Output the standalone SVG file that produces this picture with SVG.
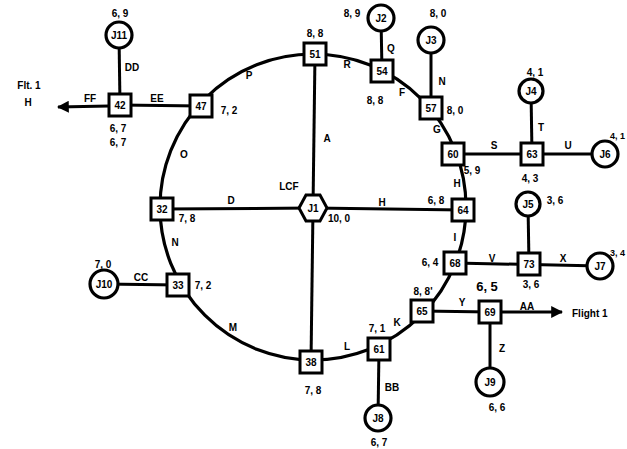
<svg xmlns="http://www.w3.org/2000/svg" width="627" height="449" viewBox="0 0 627 449">
  <defs>
    <marker id="arrow" viewBox="0 0 10 10" refX="9" refY="5" markerWidth="4" markerHeight="4" orient="auto">
      <path d="M0,0 L10,5 L0,10 z" fill="#000"/>
    </marker>
    <style>
      .ring { fill: none; stroke: #000; stroke-width: 3.2; }
      .edge { fill: none; stroke: #000; stroke-width: 3; }
      .box { fill: #fff; stroke: #000; stroke-width: 3; }
      .jn { fill: #fff; stroke: #000; stroke-width: 3.2; }
      .nid { font-family: "Liberation Sans", Arial, sans-serif; font-weight: bold; font-size: 10px; text-anchor: middle; fill: #000; }
      .lbl { font-family: "Liberation Sans", Arial, sans-serif; font-weight: bold; font-size: 10px; text-anchor: middle; fill: #000; }
      .start { text-anchor: start; }
      .edgeval { font-size: 9px; }
      .big { font-size: 13px; }
    </style>
  </defs>
  <rect width="627" height="449" fill="#fff"/>

  <!-- connectors -->
  <g id="connectors">
    <circle class="ring" cx="313" cy="207" r="153"/>
    <line class="edge" x1="313" y1="208" x2="315" y2="54"/>
    <line class="edge" x1="313" y1="208" x2="311" y2="362"/>
    <line class="edge" x1="313" y1="208" x2="162" y2="209"/>
    <line class="edge" x1="313" y1="208" x2="463" y2="210"/>
    <line class="edge" x1="201" y1="106" x2="120" y2="105"/>
    <line class="edge" x1="120" y1="105" x2="119" y2="35"/>
    <line class="edge" x1="109" y1="106" x2="58" y2="107" marker-end="url(#arrow)"/>
    <line class="edge" x1="382" y1="71" x2="381" y2="18"/>
    <line class="edge" x1="431" y1="108" x2="431" y2="40"/>
    <line class="edge" x1="453" y1="154" x2="605" y2="154"/>
    <line class="edge" x1="532" y1="154" x2="531" y2="91"/>
    <line class="edge" x1="455" y1="263" x2="600" y2="266"/>
    <line class="edge" x1="529" y1="264" x2="528" y2="204"/>
    <line class="edge" x1="422" y1="311" x2="490" y2="312"/>
    <line class="edge" x1="501" y1="312" x2="562" y2="312" marker-end="url(#arrow)"/>
    <line class="edge" x1="490" y1="312" x2="490" y2="382"/>
    <line class="edge" x1="379" y1="349" x2="378" y2="418"/>
    <line class="edge" x1="178" y1="285" x2="104" y2="284"/>
  </g>

  <!-- centre node -->
  <g id="J1">
    <polygon class="box" points="299,208 306,195 320,195 327,208 320,221 306,221"/>
    <text class="nid" x="313" y="212">J1</text>
  </g>

  <!-- square nodes -->
  <g id="n42"><rect class="box" x="109" y="94" width="22" height="22"/><text class="nid" x="120" y="109">42</text></g>
  <g id="n47"><rect class="box" x="190" y="95" width="22" height="22"/><text class="nid" x="201" y="110">47</text></g>
  <g id="n51"><rect class="box" x="304" y="43" width="22" height="22"/><text class="nid" x="315" y="58">51</text></g>
  <g id="n54"><rect class="box" x="371" y="60" width="22" height="22"/><text class="nid" x="382" y="75">54</text></g>
  <g id="n57"><rect class="box" x="420" y="97" width="22" height="22"/><text class="nid" x="431" y="112">57</text></g>
  <g id="n60"><rect class="box" x="442" y="143" width="22" height="22"/><text class="nid" x="453" y="158">60</text></g>
  <g id="n63"><rect class="box" x="521" y="143" width="22" height="22"/><text class="nid" x="532" y="158">63</text></g>
  <g id="n64"><rect class="box" x="452" y="199" width="22" height="22"/><text class="nid" x="463" y="214">64</text></g>
  <g id="n68"><rect class="box" x="444" y="252" width="22" height="22"/><text class="nid" x="455" y="267">68</text></g>
  <g id="n73"><rect class="box" x="518" y="253" width="22" height="22"/><text class="nid" x="529" y="268">73</text></g>
  <g id="n65"><rect class="box" x="411" y="300" width="22" height="22"/><text class="nid" x="422" y="315">65</text></g>
  <g id="n69"><rect class="box" x="479" y="301" width="22" height="22"/><text class="nid" x="490" y="316">69</text></g>
  <g id="n61"><rect class="box" x="368" y="338" width="22" height="22"/><text class="nid" x="379" y="353">61</text></g>
  <g id="n38"><rect class="box" x="300" y="351" width="22" height="22"/><text class="nid" x="311" y="366">38</text></g>
  <g id="n33"><rect class="box" x="167" y="274" width="22" height="22"/><text class="nid" x="178" y="289">33</text></g>
  <g id="n32"><rect class="box" x="151" y="198" width="22" height="22"/><text class="nid" x="162" y="213">32</text></g>

  <!-- circular nodes -->
  <g id="J11"><circle class="jn" cx="119" cy="35" r="13"/><text class="nid" x="119" y="39">J11</text></g>
  <g id="J2"><circle class="jn" cx="381" cy="18" r="13"/><text class="nid" x="381" y="22">J2</text></g>
  <g id="J3"><circle class="jn" cx="431" cy="40" r="13"/><text class="nid" x="431" y="44">J3</text></g>
  <g id="J4"><circle class="jn" cx="531" cy="91" r="12"/><text class="nid" x="531" y="95">J4</text></g>
  <g id="J6"><circle class="jn" cx="605" cy="154" r="13"/><text class="nid" x="605" y="158">J6</text></g>
  <g id="J5"><circle class="jn" cx="528" cy="204" r="12"/><text class="nid" x="528" y="208">J5</text></g>
  <g id="J7"><circle class="jn" cx="600" cy="266" r="13"/><text class="nid" x="600" y="270">J7</text></g>
  <g id="J9"><circle class="jn" cx="490" cy="382" r="14"/><text class="nid" x="490" y="386">J9</text></g>
  <g id="J8"><circle class="jn" cx="378" cy="418" r="13"/><text class="nid" x="378" y="422">J8</text></g>
  <g id="J10"><circle class="jn" cx="104" cy="284" r="14"/><text class="nid" x="104" y="288">J10</text></g>

  <!-- connector letters -->
  <g id="edge-labels">
    <text class="lbl" x="327" y="142">A</text>
    <text class="lbl" x="231" y="204">D</text>
    <text class="lbl" x="382" y="206">H</text>
    <text class="lbl" x="249" y="79">P</text>
    <text class="lbl" x="347" y="68">R</text>
    <text class="lbl" x="391" y="52">Q</text>
    <text class="lbl" x="402" y="96">F</text>
    <text class="lbl" x="442" y="85">N</text>
    <text class="lbl" x="437" y="133">G</text>
    <text class="lbl" x="494" y="149">S</text>
    <text class="lbl" x="541" y="131">T</text>
    <text class="lbl" x="568" y="149">U</text>
    <text class="lbl" x="457" y="187">H</text>
    <text class="lbl" x="455" y="241">I</text>
    <text class="lbl" x="492" y="262">V</text>
    <text class="lbl" x="563" y="262">X</text>
    <text class="lbl" x="462" y="306">Y</text>
    <text class="lbl" x="527" y="310">AA</text>
    <text class="lbl" x="502" y="352">Z</text>
    <text class="lbl" x="397" y="326">K</text>
    <text class="lbl" x="347" y="350">L</text>
    <text class="lbl" x="392" y="391">BB</text>
    <text class="lbl" x="233" y="331">M</text>
    <text class="lbl" x="141" y="281">CC</text>
    <text class="lbl" x="175" y="246">N</text>
    <text class="lbl" x="184" y="158">O</text>
    <text class="lbl" x="157" y="102">EE</text>
    <text class="lbl" x="90" y="102">FF</text>
    <text class="lbl" x="132" y="71">DD</text>
  </g>

  <!-- node values and flight labels -->
  <g id="values">
    <text class="lbl" x="289" y="190">LCF</text>
    <text class="lbl" x="339" y="222">10, 0</text>
    <text class="lbl" x="120" y="17">6, 9</text>
    <text class="lbl" x="118" y="132">6, 7</text>
    <text class="lbl" x="118" y="146">6, 7</text>
    <text class="lbl" x="229" y="114">7, 2</text>
    <text class="lbl" x="315" y="37">8, 8</text>
    <text class="lbl" x="352" y="17">8, 9</text>
    <text class="lbl" x="375" y="104">8, 8</text>
    <text class="lbl" x="438" y="17">8, 0</text>
    <text class="lbl" x="455" y="114">8, 0</text>
    <text class="lbl" x="535" y="76">4, 1</text>
    <text class="lbl start edgeval" x="610" y="139">4, 1</text>
    <text class="lbl" x="472" y="174">5, 9</text>
    <text class="lbl" x="530" y="182">4, 3</text>
    <text class="lbl" x="436" y="204">6, 8</text>
    <text class="lbl" x="555" y="204">3, 6</text>
    <text class="lbl" x="430" y="266">6, 4</text>
    <text class="lbl big" x="487" y="291">6, 5</text>
    <text class="lbl" x="531" y="288">3, 6</text>
    <text class="lbl start edgeval" x="610" y="256">3, 4</text>
    <text class="lbl" x="423" y="295">8, 8'</text>
    <text class="lbl" x="497" y="411">6, 6</text>
    <text class="lbl" x="377" y="332">7, 1</text>
    <text class="lbl" x="379" y="446">6, 7</text>
    <text class="lbl" x="313" y="394">7, 8</text>
    <text class="lbl" x="203" y="289">7, 2</text>
    <text class="lbl" x="103" y="268">7, 0</text>
    <text class="lbl" x="187" y="222">7, 8</text>
    <text class="lbl start" x="572" y="317">Flight 1</text>
    <text class="lbl" x="29" y="89">Flt. 1</text>
    <text class="lbl" x="28" y="106">H</text>
  </g>
</svg>
